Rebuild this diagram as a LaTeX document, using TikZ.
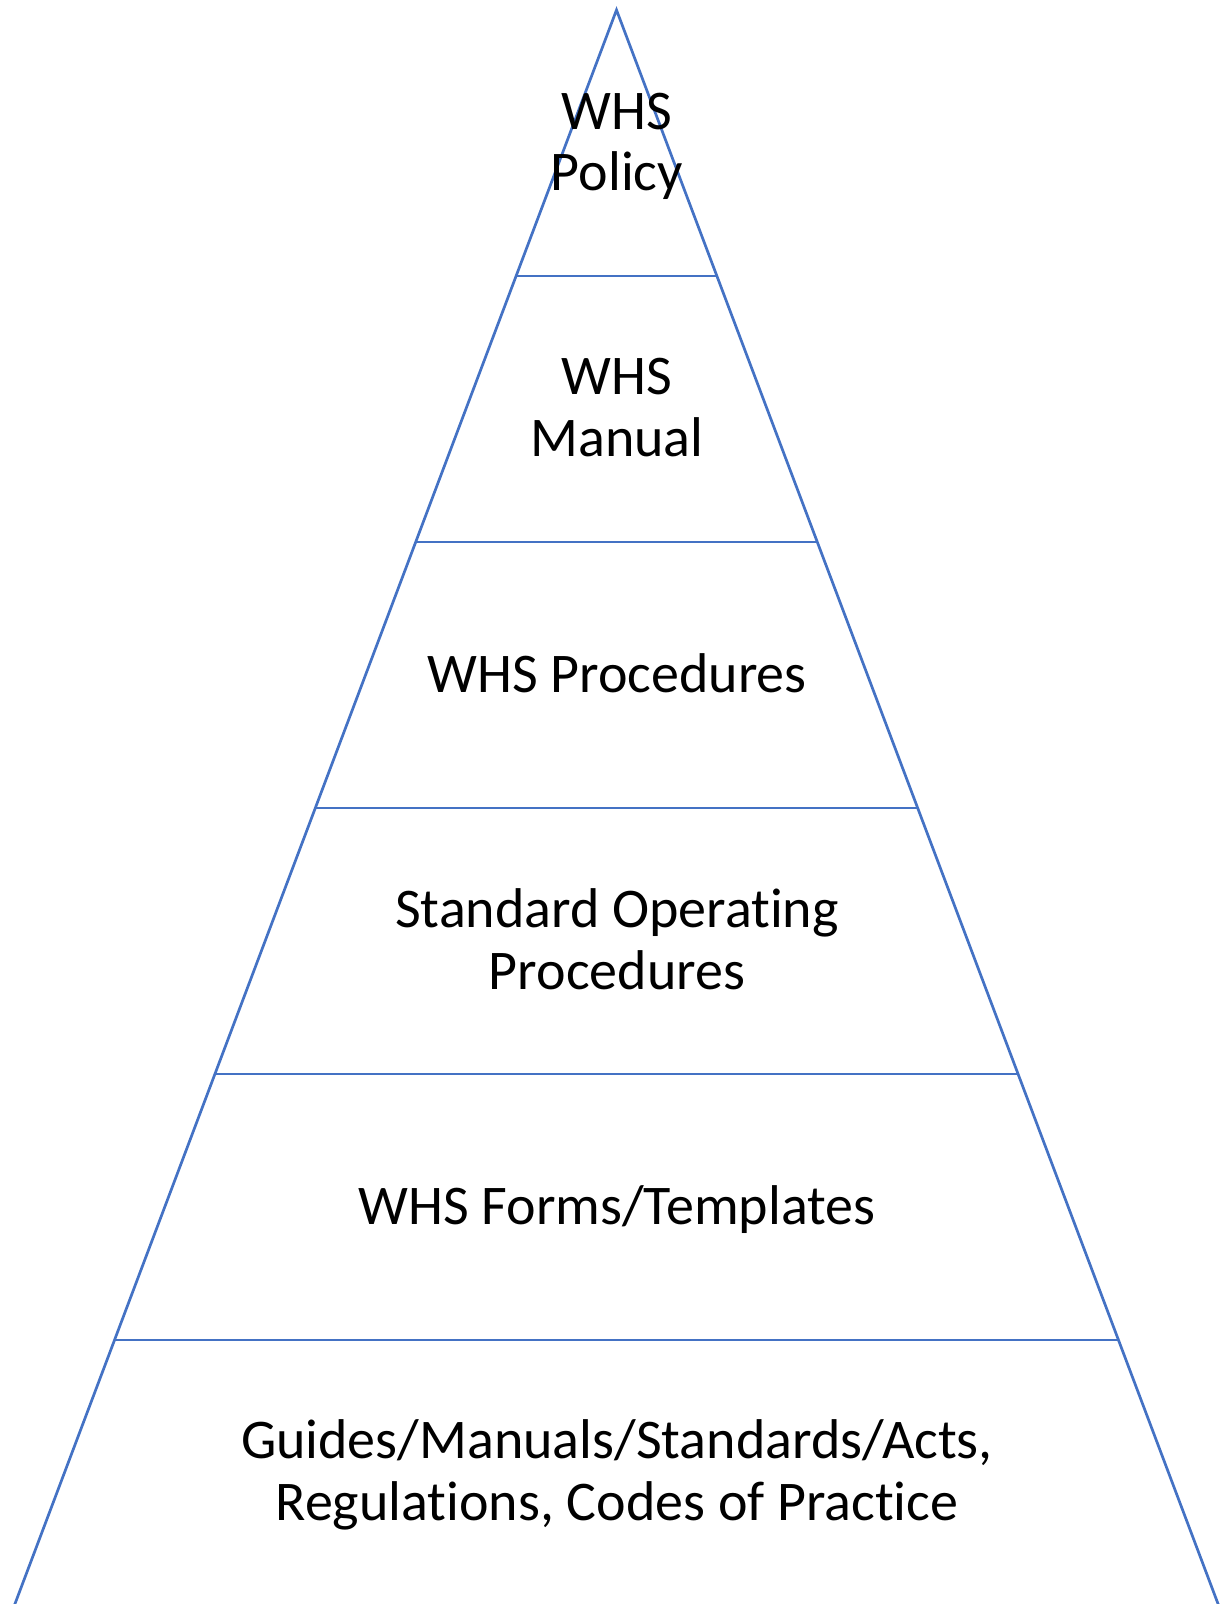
\documentclass[tikz,border=0pt]{standalone}
\usepackage{fontspec}
\setmainfont{Carlito}[Ligatures={NoCommon}]
\usetikzlibrary{calc}
\definecolor{pyrblue}{HTML}{4472C4}
\tikzset{
  edge/.style={draw=pyrblue, line width=2.7pt},
  lbl/.style={font=\fontsize{56}{62}\selectfont, align=center, inner sep=0pt, outer sep=0pt, text=black}
}
\begin{document}
\begin{tikzpicture}[x=1pt,y=-1pt]
\useasboundingbox (0,0) rectangle (1223,1604);
\coordinate (apex) at (616.5,10);
\coordinate (bl) at (14.9,1604);
\coordinate (br) at (1218.1,1604);
\begin{scope}
\clip (0,0) rectangle (1223,1604);
\draw[edge] ($(bl)!-0.01!(apex)$) -- (apex) -- ($(br)!-0.01!(apex)$);
\foreach \k in {1,...,5}{
  \draw[edge] ($(apex)!{\k*266/1594}!(bl)$) -- ($(apex)!{\k*266/1594}!(br)$);
}
\end{scope}
\node[lbl, anchor=base] (policy1) at (617,129) {WHS};
\node[lbl, anchor=base] (policy2) at (617,190) {Policy};
\node[lbl, anchor=base] (manual1) at (617,394) {WHS};
\node[lbl, anchor=base] (manual2) at (617,456) {Manual};
\node[lbl, anchor=base] (proc) at (617,692.5) {WHS Procedures};
\node[lbl, anchor=base] (sop1) at (617,927.5) {Standard Operating};
\node[lbl, anchor=base] (sop2) at (617,989) {Procedures};
\node[lbl, anchor=base] (forms) at (617,1224.5) {WHS Forms/Templates};
\node[lbl, anchor=base] (guides1) at (617,1458) {Guides/Manuals/Standards/Acts,};
\node[lbl, anchor=base] (guides2) at (617,1520) {Regulations, Codes of Practice};
\end{tikzpicture}
\end{document}
